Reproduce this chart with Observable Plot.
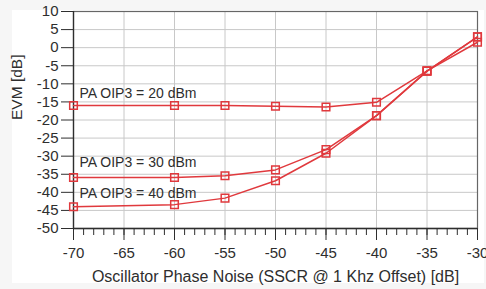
<!DOCTYPE html>
<html>
<head>
<meta charset="utf-8">
<script src="https://cdn.jsdelivr.net/npm/d3@7"></script>
<script src="https://cdn.jsdelivr.net/npm/@observablehq/plot@0.6"></script>
<style>
  html, body { margin: 0; padding: 0; background: #f6f6f6; }
  #panel { position: absolute; left: 12px; top: 10px; width: 472px; height: 273px; background: #ffffff; }
  #chart { position: absolute; left: 0; top: 0; }
  #chart svg { background: transparent; }
</style>
</head>
<body>
<div id="panel"></div>
<div id="chart"></div>
<script>
// Oscillator phase noise (dB)
const phaseNoise = [-70, -60, -55, -50, -45, -40, -35, -30];
// EVM (dB) per PA OIP3 setting
const evm20 = [-16.0, -16.0, -16.0, -16.2, -16.4, -15.1, -6.4, 1.5];
const evm30 = [-35.9, -35.9, -35.4, -33.8, -28.2, -18.8, -6.5, 3.0];
const evm40 = [-44.0, -43.4, -41.6, -36.8, -29.2, -18.8, -6.5, 3.0];
const seriesNames = ["PA OIP3 = 20 dBm", "PA OIP3 = 30 dBm", "PA OIP3 = 40 dBm"];
// annotation anchors (data coordinates)
const labelX = [-69.4, -69.4, -69.4];
const labelY = [-13.8, -33.1, -41.7];

const xTicks = [-70, -65, -60, -55, -50, -45, -40, -35, -30];
const yTicks = [10, 5, 0, -5, -10, -15, -20, -25, -30, -35, -40, -45, -50];
const xMinor = d3.range(-70, -29, 1);
const xTitle = "Oscillator Phase Noise (SSCR @ 1 Khz Offset) [dB]";
const yTitle = "EVM [dB]";

const seriesValues = [evm20, evm30, evm40];
const rows = [];
seriesValues.forEach((vals, i) => vals.forEach((v, j) => rows.push({series: seriesNames[i], x: phaseNoise[j], y: v})));
const labels = seriesNames.map((s, i) => ({text: s, x: labelX[i], y: labelY[i]}));

const red = "#e0393d";
const ink = "#2e2e2e";
const font = "'Liberation Sans', Arial, Helvetica, sans-serif";

const chart = Plot.plot({
  width: 486,
  height: 289,
  marginLeft: 73,
  marginRight: 9,
  marginTop: 11,
  marginBottom: 61,
  style: {fontFamily: font, fontSize: "15px", color: ink, background: "transparent"},
  x: {domain: [-70, -30]},
  y: {domain: [-50, 10]},
  marks: [
    Plot.gridX(xTicks.slice(1, -1), {stroke: "#c8c8c8", strokeOpacity: 1, strokeWidth: 1}),
    Plot.gridY(yTicks.slice(1, -1), {stroke: "#c8c8c8", strokeOpacity: 1, strokeWidth: 1}),
    Plot.frame({stroke: "#666", strokeWidth: 1.2}),
    Plot.axisX(xMinor, {tickSize: 7, tickFormat: () => "", stroke: ink, label: null}),
    Plot.axisX(xTicks, {tickSize: 12, tickFormat: () => "", stroke: ink, label: null}),
    Plot.axisY(yTicks, {tickSize: 12, tickFormat: () => "", stroke: ink, label: null}),
    Plot.text(xTicks, {x: d => d, frameAnchor: "bottom", dy: 19, lineAnchor: "top", text: d => String(d), fontSize: 15, fill: ink}),
    Plot.text(yTicks, {y: d => d, frameAnchor: "left", dx: -15, textAnchor: "end", lineAnchor: "middle", text: d => String(d), fontSize: 15, fill: ink}),
    Plot.text([xTitle], {frameAnchor: "bottom", dy: 53, lineAnchor: "bottom", text: d => d, fontSize: 16, fill: ink}),
    Plot.text([yTitle], {frameAnchor: "left", dx: -56, rotate: -90, lineAnchor: "middle", text: d => d, fontSize: 15.5, fill: ink}),
    Plot.ruleX([-70], {stroke: ink, strokeWidth: 1.3}),
    Plot.ruleY([-50], {stroke: ink, strokeWidth: 1.3}),
    Plot.line(rows, {x: "x", y: "y", z: "series", stroke: red, strokeWidth: 1.5}),
    Plot.dot(rows, {x: "x", y: "y", symbol: "square", r: 4.3, stroke: red, strokeWidth: 1.5, fill: "none"}),
    Plot.text(labels, {x: "x", y: "y", text: "text", textAnchor: "start", lineAnchor: "bottom", fontSize: 14, fill: ink})
  ]
});
document.getElementById("chart").appendChild(chart);
</script>
</body>
</html>
